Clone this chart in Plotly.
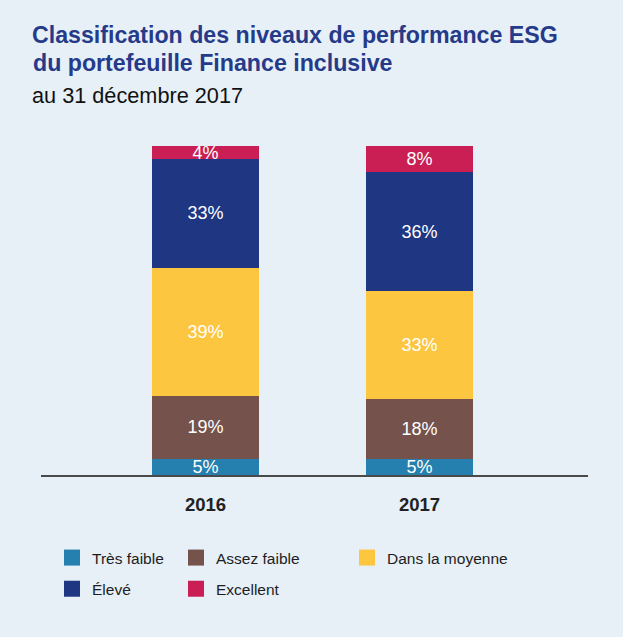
import plotly.graph_objects as go

years = ["2016", "2017"]
categories = ["Très faible", "Assez faible", "Dans la moyenne", "Élevé", "Excellent"]
values = {
    "Très faible": [5, 5],
    "Assez faible": [19, 18],
    "Dans la moyenne": [39, 33],
    "Élevé": [33, 36],
    "Excellent": [4, 8],
}
colors = {
    "Très faible": "#2580b0",
    "Assez faible": "#75524b",
    "Dans la moyenne": "#fdc641",
    "Élevé": "#1f3682",
    "Excellent": "#c91f55",
}
legend_of = {
    "Très faible": "legend",
    "Élevé": "legend",
    "Assez faible": "legend2",
    "Excellent": "legend2",
    "Dans la moyenne": "legend3",
}

SANS = "Liberation Sans, Arial, Helvetica, sans-serif"
BG = "#e7eff7"
TITLE_COLOR = "#263a8a"

fig = go.Figure()
for cat in categories:
    fig.add_trace(go.Bar(
        x=years, y=values[cat], name=cat,
        marker=dict(color=colors[cat], line=dict(width=0)),
        width=0.5,
        text=[f"{v}%" for v in values[cat]],
        textposition="inside", insidetextanchor="middle", textangle=0,
        textfont=dict(family=SANS, size=18, color="white"),
        legendgroup=cat, showlegend=False, hoverinfo="skip",
    ))
# legend entries (square swatches)
for cat in ["Très faible", "Élevé", "Assez faible", "Excellent", "Dans la moyenne"]:
    fig.add_trace(go.Scatter(
        x=[None], y=[None], mode="markers", name=cat,
        marker=dict(symbol="square", size=16, color=colors[cat], line=dict(width=0)),
        legendgroup=cat, legend=legend_of[cat], showlegend=True,
    ))

L, R, T, B = 41, 35, 146, 162
W, H = 623, 637
pw, ph = W - L - R, H - T - B

def lx(px):
    return (px - L) / pw

def ly(py):
    return (H - B - py) / ph

leg_common = dict(
    orientation="v", traceorder="grouped", tracegroupgap=8,
    font=dict(family=SANS, size=15.5, color="#1e1e1e"),
    bgcolor="rgba(0,0,0,0)", borderwidth=0,
    xanchor="left", yanchor="top", itemsizing="trace",
)

fig.update_layout(
    width=W, height=H,
    margin=dict(l=L, r=R, t=T, b=B, pad=0),
    paper_bgcolor=BG, plot_bgcolor=BG,
    barmode="stack",
    uniformtext=dict(minsize=18, mode="show"),
    title=dict(
        text="Classification des niveaux de performance ESG",
        font=dict(family=SANS, size=23.2, color=TITLE_COLOR, weight="bold"),
        x=32 / W, xanchor="left", xref="container",
        y=1 - 26.5 / H, yanchor="top", yref="container",
    ),
    annotations=[
        dict(text="du portefeuille Finance inclusive", xref="paper", yref="paper",
             x=lx(31), y=ly(47.5), xanchor="left", yanchor="top", showarrow=False,
             font=dict(family=SANS, size=23.2, color=TITLE_COLOR, weight="bold")),
        dict(text="au 31 décembre 2017", xref="paper", yref="paper",
             x=lx(30), y=ly(81), xanchor="left", yanchor="top", showarrow=False,
             font=dict(family=SANS, size=21.7, color="#111111")),
    ],
    xaxis=dict(
        range=[-0.769, 1.787], showgrid=False, zeroline=False,
        showline=True, linecolor="#4a4a4a", linewidth=1.5,
        ticks="", ticklabelstandoff=12,
        tickfont=dict(family=SANS, size=18.5, color="#222222", weight="bold"),
        fixedrange=True,
    ),
    yaxis=dict(range=[0, 100], visible=False, fixedrange=True),
    legend=dict(x=lx(52), y=ly(541), **leg_common),
    legend2=dict(x=lx(176), y=ly(541), **leg_common),
    legend3=dict(x=lx(347), y=ly(541), **leg_common),
    showlegend=True,
)

fig.write_html(
    "out.html",
    config={"displayModeBar": False},
    post_script="document.body.style.margin='0';document.body.style.overflow='hidden';",
)
